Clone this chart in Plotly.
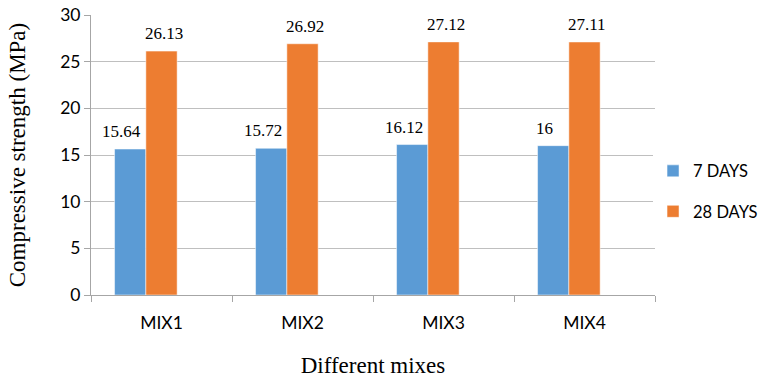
import plotly.graph_objects as go

categories = ["MIX1", "MIX2", "MIX3", "MIX4"]
days7 = [15.64, 15.72, 16.12, 16]
days28 = [26.13, 26.92, 27.12, 27.11]
series_names = ["7 DAYS", "28 DAYS"]
colors = ["#5B9BD5", "#ED7D31"]

bar_w = 0.222
fig = go.Figure()
fig.add_trace(go.Bar(
    x=categories, y=days7, name=series_names[0], legendgroup="a",
    width=bar_w, offset=-1.5 * bar_w,
    marker=dict(color=colors[0], line=dict(color="rgba(255,255,255,0.5)", width=1)),
))
fig.add_trace(go.Bar(
    x=categories, y=days28, name=series_names[1], legendgroup="b",
    width=bar_w, offset=-0.5 * bar_w,
    marker=dict(color=colors[1], line=dict(color="rgba(255,255,255,0.5)", width=1)),
))
label_font = dict(family="Liberation Serif", size=17, color="#000")
for c, v in zip(categories, days7):
    fig.add_annotation(x=c, y=v, text=f"{v:g}", showarrow=False,
                       xanchor="center", yanchor="bottom", xshift=-40, yshift=6,
                       font=label_font)
for c, v in zip(categories, days28):
    fig.add_annotation(x=c, y=v, text=f"{v:g}", showarrow=False,
                       xanchor="center", yanchor="bottom", xshift=2, yshift=6,
                       font=label_font)

fig.update_layout(
    width=762, height=380,
    margin=dict(l=91, r=107, t=15, b=85, autoexpand=False),
    plot_bgcolor="white", paper_bgcolor="white",
    barmode="overlay",
    font=dict(family="Lato", size=17, color="#000"),
    legend=dict(x=0.857, y=0.497, xref="container", yref="container",
                xanchor="left", yanchor="middle",
                font=dict(family="Lato", size=16.5), tracegroupgap=16,
                traceorder="grouped"),
    xaxis=dict(
        range=[-0.5, 3.5],
        showline=True, linecolor="#a6a6a6", linewidth=1,
        ticks="outside", tickson="boundaries", ticklen=6, tickcolor="#a6a6a6",
        tickfont=dict(family="Lato", size=17.5), ticklabelstandoff=12,
        title=dict(text="Different mixes", font=dict(family="Liberation Serif", size=23), standoff=24),
    ),
    yaxis=dict(
        range=[0, 30], dtick=5,
        showline=True, linecolor="#a6a6a6", linewidth=1,
        ticks="outside", ticklen=6, tickcolor="#a6a6a6",
        showgrid=True, gridcolor="#bfbfbf", gridwidth=1,
        tickfont=dict(family="Lato", size=17.5),
        title=dict(text="Compressive strength (MPa)", font=dict(family="Liberation Serif", size=23), standoff=28),
    ),
)

fig.write_html("out.html")
